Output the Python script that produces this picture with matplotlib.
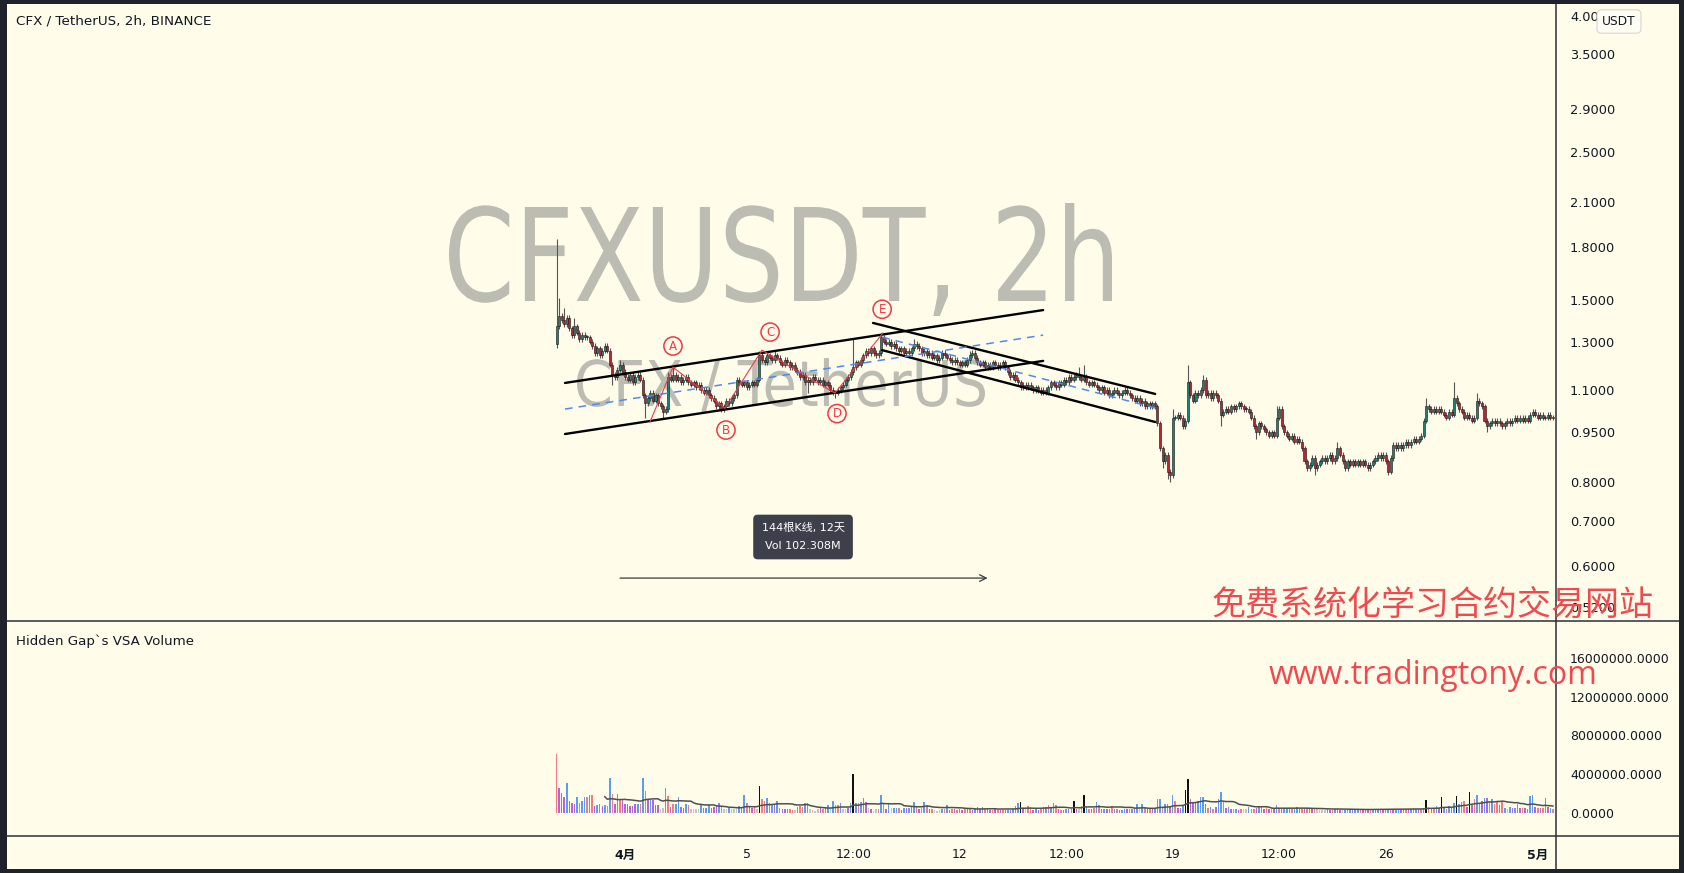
import matplotlib
matplotlib.use("Agg")
import matplotlib.pyplot as plt
import numpy as np
import pandas as pd
from matplotlib.font_manager import FontProperties
from matplotlib.lines import Line2D
from matplotlib.patches import PathPatch, Rectangle
from matplotlib.textpath import TextPath
from matplotlib.ticker import NullLocator
from matplotlib.transforms import Affine2D, IdentityTransform

plt.rcParams["font.family"] = ["DejaVu Sans", "Noto Sans CJK SC"]

# CFX/USDT 2h candles, first bar Mar 29 18:00, 12 bars per day
FIRST_OPEN = 1.29
CLOSES = [
    1.37, 1.42, 1.40, 1.38, 1.41, 1.36, 1.33, 1.37, 1.34, 1.31, 1.33, 1.32,
    1.32, 1.30, 1.28, 1.25, 1.27, 1.24, 1.26, 1.28, 1.26, 1.20, 1.16, 1.15,
    1.18, 1.20, 1.17, 1.15, 1.14, 1.16, 1.13, 1.15, 1.16, 1.14, 1.08, 1.05,
    1.07, 1.09, 1.06, 1.08, 1.05, 1.04, 1.02, 1.03, 1.15, 1.14, 1.16, 1.14,
    1.15, 1.13, 1.14, 1.15, 1.13, 1.12, 1.13, 1.11, 1.12, 1.10, 1.09, 1.10,
    1.08, 1.07, 1.06, 1.04, 1.05, 1.03, 1.04, 1.06, 1.05, 1.07, 1.08, 1.14,
    1.13, 1.12, 1.13, 1.11, 1.12, 1.13, 1.12, 1.14, 1.24, 1.22, 1.21, 1.24,
    1.23, 1.22, 1.24, 1.23, 1.21, 1.20, 1.22, 1.21, 1.19, 1.20, 1.18, 1.17,
    1.15, 1.16, 1.13, 1.14, 1.13, 1.15, 1.14, 1.13, 1.14, 1.12, 1.13, 1.12,
    1.10, 1.09, 1.09, 1.10, 1.11, 1.12, 1.14, 1.15, 1.17, 1.19, 1.21, 1.20,
    1.22, 1.24, 1.26, 1.25, 1.27, 1.25, 1.24, 1.25, 1.32, 1.30, 1.29, 1.30,
    1.28, 1.29, 1.27, 1.26, 1.27, 1.25, 1.26, 1.25, 1.27, 1.29, 1.28, 1.27,
    1.25, 1.26, 1.24, 1.25, 1.23, 1.24, 1.22, 1.23, 1.25, 1.24, 1.23, 1.22,
    1.21, 1.22, 1.21, 1.20, 1.21, 1.20, 1.22, 1.24, 1.25, 1.23, 1.21, 1.20,
    1.21, 1.19, 1.20, 1.19, 1.21, 1.20, 1.19, 1.20, 1.21, 1.19, 1.17, 1.15,
    1.16, 1.14, 1.13, 1.11, 1.12, 1.11, 1.12, 1.11, 1.10, 1.11, 1.10, 1.09,
    1.10, 1.09, 1.11, 1.13, 1.12, 1.11, 1.13, 1.12, 1.14, 1.13, 1.15, 1.14,
    1.15, 1.16, 1.15, 1.14, 1.15, 1.13, 1.12, 1.13, 1.12, 1.11, 1.10, 1.11,
    1.09, 1.10, 1.08, 1.09, 1.10, 1.09, 1.08, 1.09, 1.10, 1.09, 1.08, 1.07,
    1.06, 1.07, 1.05, 1.06, 1.04, 1.05, 1.04, 1.05, 1.04, 0.98, 0.90, 0.86,
    0.88, 0.83, 0.82, 1.00, 1.00, 1.01, 1.00, 0.97, 0.99, 1.13, 1.08, 1.06,
    1.09, 1.08, 1.10, 1.14, 1.08, 1.09, 1.07, 1.09, 1.08, 1.06, 1.01, 1.02,
    1.03, 1.02, 1.04, 1.03, 1.04, 1.05, 1.04, 1.03, 1.03, 1.02, 1.00, 0.97,
    0.95, 0.98, 0.97, 0.96, 0.95, 0.94, 0.95, 0.94, 1.00, 1.03, 0.97, 0.95,
    0.94, 0.93, 0.94, 0.92, 0.93, 0.92, 0.90, 0.86, 0.84, 0.85, 0.87, 0.84,
    0.85, 0.86, 0.87, 0.86, 0.87, 0.88, 0.86, 0.87, 0.90, 0.88, 0.86, 0.84,
    0.86, 0.85, 0.86, 0.85, 0.86, 0.85, 0.86, 0.85, 0.84, 0.85, 0.86, 0.87,
    0.88, 0.87, 0.88, 0.86, 0.83, 0.87, 0.91, 0.90, 0.91, 0.90, 0.91, 0.92,
    0.91, 0.92, 0.93, 0.92, 0.93, 0.94, 0.99, 1.04, 1.03, 1.02, 1.03, 1.02,
    1.03, 1.02, 1.01, 1.00, 1.02, 1.01, 1.07, 1.05, 1.03, 1.02, 1.00, 1.01,
    1.00, 0.99, 1.00, 1.06, 1.05, 1.04, 0.99, 0.97, 0.98, 0.99, 0.98, 0.99,
    0.98, 0.97, 0.98, 0.99, 0.98, 0.99, 1.00, 0.99, 1.00, 0.99, 1.00, 0.99,
    1.01, 1.02, 1.01, 1.00, 1.01, 1.00, 1.00, 1.01, 1.00, 1.00,
]
# wicks that stick out; other bars get a short default wick
WICK = 0.009
HIGHS = {0: 1.85, 1: 1.51, 3: 1.46, 7: 1.41, 21: 1.27, 25: 1.22, 44: 1.17, 46: 1.19,
         80: 1.26, 86: 1.26, 117: 1.31, 128: 1.34, 129: 1.33, 141: 1.31, 163: 1.26,
         206: 1.19, 208: 1.20, 243: 1.03, 249: 1.20, 255: 1.16, 284: 1.04, 308: 0.92,
         343: 1.07, 354: 1.13, 363: 1.09}
LOWS = {0: 1.27, 22: 1.12, 35: 1.00, 42: 1.00, 65: 1.02, 99: 1.09, 110: 1.07,
        239: 0.84, 241: 0.81, 242: 0.80, 262: 0.97, 276: 0.93, 299: 0.82, 328: 0.82,
        367: 0.95}

# volume in millions, VSA colour per bar: b=up, r=down, p=neutral, g=low, k=climax
VOLUMES_M = [
    6.1, 2.6, 2.1, 1.6, 3.1, 1.2, 1.0, 0.95, 1.7, 1.0, 1.25, 1.66,
    1.6, 1.9, 1.86, 0.75, 0.85, 0.95, 0.68, 0.85, 0.75, 3.66, 2.0, 0.95,
    2.0, 1.4, 1.4, 0.95, 0.95, 0.75, 0.75, 0.95, 0.9, 0.95, 3.66, 2.3,
    1.4, 1.35, 1.3, 0.85, 0.8, 0.45, 0.55, 2.55, 1.8, 0.65, 0.9, 0.9,
    1.6, 0.6, 0.55, 0.95, 0.85, 0.4, 0.4, 0.4, 0.4, 0.85, 0.5, 0.5,
    0.8, 0.5, 0.6, 0.7, 1.05, 0.6, 0.37, 0.37, 0.55, 0.37, 0.37, 0.37,
    0.68, 0.6, 1.86, 1.05, 0.6, 0.55, 0.6, 0.4, 2.8, 1.4, 1.2, 1.5,
    1.0, 0.95, 0.95, 1.2, 0.5, 0.45, 0.45, 0.4, 0.37, 0.35, 0.3, 0.65,
    0.68, 0.6, 1.0, 1.0, 0.37, 0.35, 0.25, 0.37, 0.5, 0.4, 0.5, 0.8,
    0.4, 1.2, 0.85, 0.8, 1.0, 0.37, 0.37, 0.55, 1.05, 4.0, 1.0, 1.0,
    1.1, 1.56, 1.1, 0.55, 0.45, 0.25, 0.4, 0.45, 1.86, 0.9, 0.45, 0.9,
    0.55, 0.55, 0.55, 0.55, 0.35, 0.55, 0.5, 0.5, 0.7, 1.15, 0.7, 0.45,
    0.55, 1.1, 0.85, 0.45, 0.45, 0.3, 0.25, 0.35, 0.4, 0.45, 0.85, 0.35,
    0.4, 0.37, 0.35, 0.45, 0.35, 0.45, 0.37, 0.37, 0.3, 0.45, 0.6, 0.45,
    0.6, 0.45, 0.45, 0.35, 0.35, 0.45, 0.35, 0.35, 0.35, 0.35, 0.35, 0.35,
    0.45, 0.7, 1.0, 1.1, 0.4, 0.4, 0.68, 0.6, 0.35, 0.4, 0.35, 0.45,
    0.6, 0.6, 0.8, 0.55, 1.0, 0.8, 0.37, 0.35, 0.35, 0.4, 0.4, 0.45,
    1.2, 0.4, 0.4, 0.68, 1.83, 0.6, 0.45, 0.45, 0.5, 1.1, 0.85, 0.45,
    0.4, 0.4, 0.45, 0.7, 0.37, 0.45, 0.35, 0.35, 0.4, 0.4, 0.45, 0.4,
    0.5, 0.95, 0.4, 0.9, 0.5, 0.4, 0.45, 0.4, 0.5, 1.4, 1.4, 0.6,
    0.9, 0.9, 0.6, 1.84, 1.2, 0.5, 0.5, 0.7, 2.4, 3.5, 1.4, 1.0,
    1.0, 1.2, 1.6, 1.6, 0.9, 0.5, 0.6, 0.45, 0.6, 1.4, 2.2, 1.1,
    0.5, 0.6, 0.45, 0.4, 0.45, 0.35, 0.45, 0.4, 0.4, 0.6, 0.45, 0.45,
    0.5, 0.6, 0.7, 0.45, 0.6, 0.45, 0.4, 0.5, 0.8, 0.5, 0.45, 0.4,
    0.5, 0.45, 0.4, 0.45, 0.6, 0.4, 0.45, 0.5, 0.5, 0.4, 0.4, 0.45,
    0.4, 0.35, 0.3, 0.3, 0.4, 0.35, 0.35, 0.45, 0.4, 0.35, 0.3, 0.35,
    0.35, 0.4, 0.35, 0.35, 0.4, 0.35, 0.35, 0.45, 0.35, 0.4, 0.4, 0.35,
    0.45, 0.4, 0.35, 0.4, 0.45, 0.4, 0.35, 0.4, 0.45, 0.4, 0.45, 0.4,
    0.45, 0.4, 0.5, 0.45, 0.4, 0.45, 0.5, 1.3, 0.6, 0.5, 0.45, 0.7,
    0.5, 1.7, 0.6, 0.45, 0.7, 0.5, 1.0, 1.75, 0.9, 1.1, 1.2, 0.6,
    2.2, 0.8, 1.4, 1.84, 1.0, 1.2, 1.5, 1.5, 1.1, 1.4, 0.9, 1.2,
    0.8, 1.1, 0.5, 0.45, 0.6, 0.5, 0.55, 0.9, 0.5, 0.55, 0.5, 0.45,
    1.8, 1.85, 0.6, 0.55, 0.5, 0.5, 1.5, 0.6, 0.5, 0.45,
]
VOL_CODES = "".join([
    "rpppbpppbrbb", "rbrpbbpbrbrp", "brppppppbrbr", "pbpppggbrprb",
    "bppbrggggbpb", "bpppbrggbggg", "bpbrpprgkrrb", "bbpbrppprrgb",
    "rrbbggggprbb", "gbrrbggpbkbr", "bbpgpggrbrpb", "gbbrpbpbpbrp",
    "rbrprgggbrbp", "rprbprprpbbp", "brbprprprpbp", "bbbkpgrrpbpr",
    "bbrbbrprpbpb", "kpgrkbrprbrp", "bpbrbrpbbprb", "pbgbrprpbbbr",
    "bbpbrppbkkpp", "pbbbprbrpbbr", "pbprbprggbrr", "pbbprprpbrpb",
    "bprbbprprbpr", "ggggbprbbpgb", "rbpbbrpbprbp", "brpbbrpbbpbr",
    "pbrbprbkrprb", "pkbrbpbkbbrp", "kprbbpbprbrr", "prbgbpbbprpb",
    "bbprprbpbr",
])
VOL_MA_LEN = 20

TIME_TICKS = [27, 75, 117, 159, 201, 243, 285, 327, 387]
TIME_LABELS = ["4月", "5", "12:00", "12", "12:00", "19", "12:00", "26", "5月"]
PRICE_TICKS = [0.52, 0.6, 0.7, 0.8, 0.95, 1.1, 1.3, 1.5, 1.8, 2.1, 2.5, 2.9, 3.5, 4.0]
VOL_TICKS = [0, 4e6, 8e6, 12e6, 16e6]

# drawings, anchored at (bar, price)
RISING_UPPER = [(3.3, 1.127), (191.9, 1.449)]
RISING_LOWER = [(3.3, 0.945), (191.9, 1.216)]
RISING_MID = [(3.3, 1.030), (191.9, 1.329)]
FALLING_UPPER = [(124.8, 1.386), (236.1, 1.085)]
FALLING_LOWER = [(128.4, 1.262), (236.1, 0.985)]
FALLING_MID = [(128.4, 1.320), (236.1, 1.034)]
WAVE_BARS = [36.8, 45.9, 66.4, 81.0, 109.8, 128.7]
WAVE_PRICES = [0.985, 1.19, 1.033, 1.262, 1.088, 1.339]
WAVE_LABELS = ["A", "B", "C", "D", "E"]
WAVE_LABEL_BARS = [45.9, 66.8, 84.2, 110.6, 128.4]
WAVE_LABEL_PRICES = [1.28, 0.958, 1.343, 1.014, 1.453]
RANGE_BARS = (25, 170)
RANGE_PRICE = 0.575
RANGE_BOX = (97.2, 0.6625)

W, H = 1684, 873
BG = "#fffdea"
FRAME = "#1f222a"
UP_COLOR = "#1f8270"
DOWN_COLOR = "#b8242f"
MARK_RED = "#f23645"
WATERMARK = "#bdbcb2"
VOL_COLORS = {"b": "#5a9cf6", "r": "#f57b80", "p": "#b765d2", "g": "#c5c5c0", "k": "#111111"}


def fx(px):
    return px / W


def fy(py):
    return 1 - py / H


def add_watermark(ax, text, left, right, cap_top, baseline):
    # stretch a DejaVu outline into the pixel box of the caps (top-left origin)
    tp = TextPath((0, 0), text, size=100, prop=FontProperties(family="DejaVu Sans"))
    ext = tp.get_extents()
    sx = (right - left) / ext.width
    sy = (baseline - cap_top) / 72.9
    tr = Affine2D().translate(-ext.x0, 0).scale(sx, sy).translate(left, H - baseline)
    ax.add_patch(PathPatch(tr.transform_path(tp), transform=IdentityTransform(),
                           facecolor=WATERMARK, edgecolor="none", zorder=0.5))


def build_ohlc():
    closes = np.array(CLOSES)
    opens = np.concatenate([[FIRST_OPEN], closes[:-1]])
    highs = np.maximum(opens, closes) * (1 + WICK)
    lows = np.minimum(opens, closes) / (1 + WICK)
    for i, v in HIGHS.items():
        highs[i] = v
    for i, v in LOWS.items():
        lows[i] = v
    return opens, closes, highs, lows


def draw_price(ax):
    opens, closes, highs, lows = build_ohlc()
    x = np.arange(len(closes))
    ax.vlines(x, lows, highs, color="#555555", linewidth=0.8, zorder=3)
    bottoms = np.minimum(opens, closes)
    heights = np.maximum(np.abs(closes - opens), bottoms * 0.003)
    colors = np.where(closes >= opens, UP_COLOR, DOWN_COLOR)
    ax.bar(x, heights, bottom=bottoms, width=0.8, color=colors,
           edgecolor="#161616", linewidth=0.4, zorder=4)

    for line in (RISING_UPPER, RISING_LOWER, FALLING_UPPER, FALLING_LOWER):
        (x0, y0), (x1, y1) = line
        ax.plot([x0, x1], [y0, y1], color="black", linewidth=1.7, zorder=5,
                solid_capstyle="round")
    for line in (RISING_MID, FALLING_MID):
        (x0, y0), (x1, y1) = line
        ax.plot([x0, x1], [y0, y1], color="#4d8af0", linewidth=1.1, zorder=5,
                linestyle=(0, (5, 4)))

    ax.plot(WAVE_BARS, WAVE_PRICES, color=MARK_RED, linewidth=0.8, zorder=6)
    for lab, bx, by in zip(WAVE_LABELS, WAVE_LABEL_BARS, WAVE_LABEL_PRICES):
        ax.text(bx, by, lab, ha="center", va="center", color=MARK_RED, fontsize=8.5,
                zorder=7, bbox=dict(boxstyle="circle,pad=0.22", fc=BG, ec=MARK_RED, lw=1.1))

    # date range measurement
    ax.annotate("", xy=(RANGE_BARS[1], RANGE_PRICE), xytext=(RANGE_BARS[0], RANGE_PRICE),
                arrowprops=dict(arrowstyle="->", color="#3a3a3a", lw=0.9,
                                mutation_scale=12, shrinkA=0, shrinkB=0), zorder=6)
    ax.text(RANGE_BOX[0], RANGE_BOX[1], "144根K线, 12天\nVol 102.308M", ha="center",
            va="center", color="white", fontsize=8, linespacing=2.0, zorder=7,
            bbox=dict(boxstyle="round,pad=0.75,rounding_size=0.4", fc="#3d404a", ec="none"))

    add_watermark(ax, "CFXUSDT, 2h", 449, 1112, 207, 301)
    add_watermark(ax, "CFX / TetherUS", 577, 985, 360, 406)

    ax.set_yscale("log")
    ax.set_ylim(0.4959, 4.149)
    ax.yaxis.tick_right()
    ax.yaxis.set_minor_locator(NullLocator())
    ax.set_yticks(PRICE_TICKS)
    ax.set_yticklabels([f"{v:.4f}" for v in PRICE_TICKS])
    ax.tick_params(axis="y", length=0, pad=10, labelsize=9.3, labelcolor="#131722")
    ax.set_xticks([])


def draw_volume(ax):
    n = len(CLOSES)
    assert len(VOLUMES_M) == n and len(VOL_CODES) == n, (len(VOLUMES_M), len(VOL_CODES), n)
    vols = np.array(VOLUMES_M) * 1e6
    x = np.arange(n)
    ax.bar(x, vols, width=0.6, color=[VOL_COLORS[c] for c in VOL_CODES], linewidth=0, zorder=3)
    ma = pd.Series(vols).rolling(VOL_MA_LEN).mean()
    ax.plot(x, ma, color="#4f4f4f", linewidth=1.1, zorder=4)

    ax.set_ylim(-2.37e6, 19.8e6)
    ax.yaxis.tick_right()
    ax.set_yticks(VOL_TICKS)
    ax.set_yticklabels([f"{v:.4f}" for v in VOL_TICKS])
    ax.tick_params(axis="y", length=0, pad=10, labelsize=9, labelcolor="#131722")

    ax.set_xticks(TIME_TICKS)
    ax.set_xticklabels(TIME_LABELS)
    ax.tick_params(axis="x", length=0, pad=9, labelsize=9, labelcolor="#131722")
    for lab in ax.get_xticklabels():
        if "月" in lab.get_text():
            lab.set_fontweight("bold")


def main():
    fig = plt.figure(figsize=(W / 100, H / 100), dpi=100)
    fig.patch.set_facecolor(FRAME)
    fig.add_artist(Rectangle((fx(7), fy(869)), fx(1679) - fx(7), fy(4) - fy(869),
                             transform=fig.transFigure, facecolor=BG, edgecolor="none",
                             zorder=-1))

    left, right = fx(7), fx(1556)
    ax_p = fig.add_axes([left, fy(621), right - left, fy(5) - fy(621)])
    ax_v = fig.add_axes([left, fy(836), right - left, fy(621) - fy(836)], sharex=ax_p)
    for ax in (ax_p, ax_v):
        ax.set_facecolor(BG)
        for s in ax.spines.values():
            s.set_visible(False)

    draw_price(ax_p)
    draw_volume(ax_v)
    ax_p.set_xlim(-216.8, 394.2)
    plt.setp(ax_p.get_xticklabels(), visible=False)

    # pane separators
    for y in (621, 836):
        fig.add_artist(Line2D([fx(7), fx(1679)], [fy(y), fy(y)], color="#2b2e38",
                              linewidth=1.1, transform=fig.transFigure, zorder=5))
    fig.add_artist(Line2D([fx(1556), fx(1556)], [fy(4), fy(869)], color="#2b2e38",
                          linewidth=1.1, transform=fig.transFigure, zorder=5))

    fig.text(fx(16), fy(21), "CFX / TetherUS, 2h, BINANCE", ha="left", va="center",
             fontsize=9.7, color="#131722")
    fig.text(fx(16), fy(641), "Hidden Gap`s VSA Volume", ha="left", va="center",
             fontsize=9.6, color="#131722")
    # currency badge sits over the tail of the top price label
    fig.text(fx(1619), fy(21.5), "USDT", ha="center", va="center", fontsize=8.8, color="#131722",
             zorder=6, bbox=dict(boxstyle="round,pad=0.42,rounding_size=0.35", fc="#fffef5",
                                 ec="#d6d6d0", lw=0.8))

    fig.text(fx(1433), fy(605), "免费系统化学习合约交易网站", ha="center", va="center",
             fontsize=24.5, color="#f04a50", family=["Noto Sans CJK SC", "DejaVu Sans"], zorder=6)
    fig.text(fx(1433), fy(676), "www.tradingtony.com", ha="center", va="center",
             fontsize=23, color="#f04a50", family=["Open Sans", "DejaVu Sans"], zorder=6)

    fig.savefig("out.png", dpi=100, facecolor=FRAME)
    plt.close(fig)


if __name__ == "__main__":
    main()
